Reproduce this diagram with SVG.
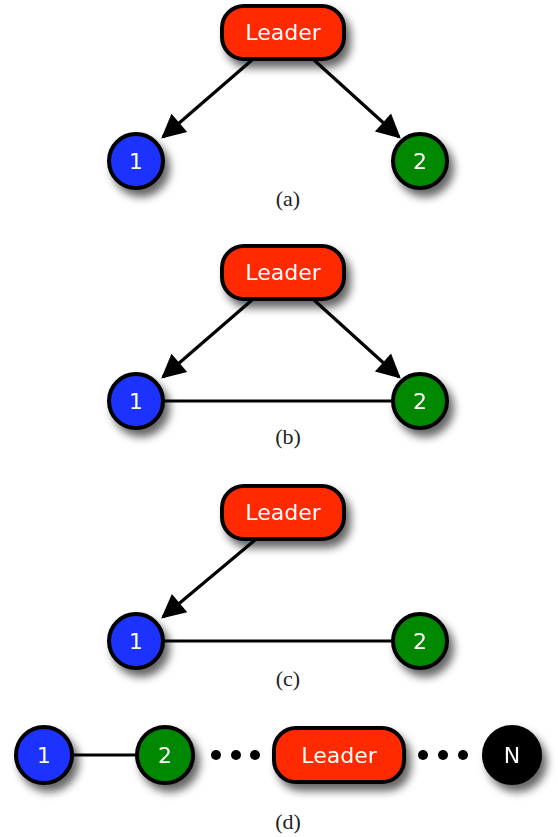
<svg xmlns="http://www.w3.org/2000/svg" width="558" height="837" viewBox="0 0 558 837">
<style>
.ld{fill:#ff2a00;stroke:#000;stroke-width:4}
.n1{fill:#1a33ff;stroke:#000;stroke-width:4}
.n2{fill:#008800;stroke:#000;stroke-width:4}
.nN{fill:#000;stroke:#000;stroke-width:4}
.t{font-family:"DejaVu Sans","Noto Sans",sans-serif;font-size:22px;fill:#fff;text-anchor:middle}
.cap{font-family:"Liberation Serif",serif;font-size:22px;fill:#222;text-anchor:middle}
.e{stroke:#000;stroke-width:3;fill:none}
.a{stroke:#000;stroke-width:3.2;fill:none;marker-end:url(#ah)}
</style>
<defs>
<filter id="sh" x="-50%" y="-50%" width="200%" height="200%">
<feDropShadow dx="5" dy="7" stdDeviation="4" flood-color="#000" flood-opacity="0.6"/>
</filter>
<marker id="ah" viewBox="0 0 10 10" refX="9" refY="5" markerWidth="8.5" markerHeight="7.5" markerUnits="strokeWidth" orient="auto">
<path d="M0,0 L10,5 L0,10 z" fill="#000"/>
</marker>
</defs>
<g id="connectors">
<line class="a" x1="252" y1="60" x2="163" y2="137"/>
<line class="a" x1="314" y1="60" x2="399" y2="137"/>
<line class="a" x1="252" y1="300" x2="163" y2="377"/>
<line class="a" x1="314" y1="300" x2="399" y2="377"/>
<line class="e" x1="163" y1="401" x2="393" y2="401"/>
<line class="a" x1="255" y1="540" x2="163" y2="617"/>
<line class="e" x1="163" y1="641" x2="393" y2="641"/>
<line class="e" x1="72" y1="755" x2="137" y2="755"/>
<g fill="#000">
<circle cx="216" cy="755" r="5"/><circle cx="236" cy="755" r="5"/><circle cx="255" cy="755" r="5"/>
<circle cx="423" cy="755" r="5"/><circle cx="443" cy="755" r="5"/><circle cx="463" cy="755" r="5"/>
</g>
</g>
<g id="a-leader" filter="url(#sh)"><rect class="ld" x="222" y="6" width="122" height="53" rx="22"/><text class="t" x="283" y="40">Leader</text></g>
<g id="a-n1" filter="url(#sh)"><circle class="n1" cx="136" cy="161" r="27"/><text class="t" x="136" y="169">1</text></g>
<g id="a-n2" filter="url(#sh)"><circle class="n2" cx="420" cy="161" r="27"/><text class="t" x="420" y="169">2</text></g>
<text id="cap-a" class="cap" x="288" y="206">(a)</text>
<g id="b-leader" filter="url(#sh)"><rect class="ld" x="222" y="246" width="122" height="53" rx="22"/><text class="t" x="283" y="280">Leader</text></g>
<g id="b-n1" filter="url(#sh)"><circle class="n1" cx="136" cy="401" r="27"/><text class="t" x="136" y="409">1</text></g>
<g id="b-n2" filter="url(#sh)"><circle class="n2" cx="420" cy="401" r="27"/><text class="t" x="420" y="409">2</text></g>
<text id="cap-b" class="cap" x="288" y="444">(b)</text>
<g id="c-leader" filter="url(#sh)"><rect class="ld" x="222" y="486" width="122" height="53" rx="22"/><text class="t" x="283" y="520">Leader</text></g>
<g id="c-n1" filter="url(#sh)"><circle class="n1" cx="136" cy="641" r="27"/><text class="t" x="136" y="649">1</text></g>
<g id="c-n2" filter="url(#sh)"><circle class="n2" cx="420" cy="641" r="27"/><text class="t" x="420" y="649">2</text></g>
<text id="cap-c" class="cap" x="288" y="686">(c)</text>
<g id="d-n1" filter="url(#sh)"><circle class="n1" cx="44" cy="755" r="28"/><text class="t" x="44" y="763">1</text></g>
<g id="d-n2" filter="url(#sh)"><circle class="n2" cx="165" cy="755" r="28"/><text class="t" x="165" y="763">2</text></g>
<g id="d-leader" filter="url(#sh)"><rect class="ld" x="274" y="728" width="130" height="54" rx="22"/><text class="t" x="339" y="763">Leader</text></g>
<g id="d-nN" filter="url(#sh)"><circle class="nN" cx="512" cy="755" r="28"/><text class="t" x="512" y="763">N</text></g>
<text id="cap-d" class="cap" x="288" y="829">(d)</text>
</svg>
